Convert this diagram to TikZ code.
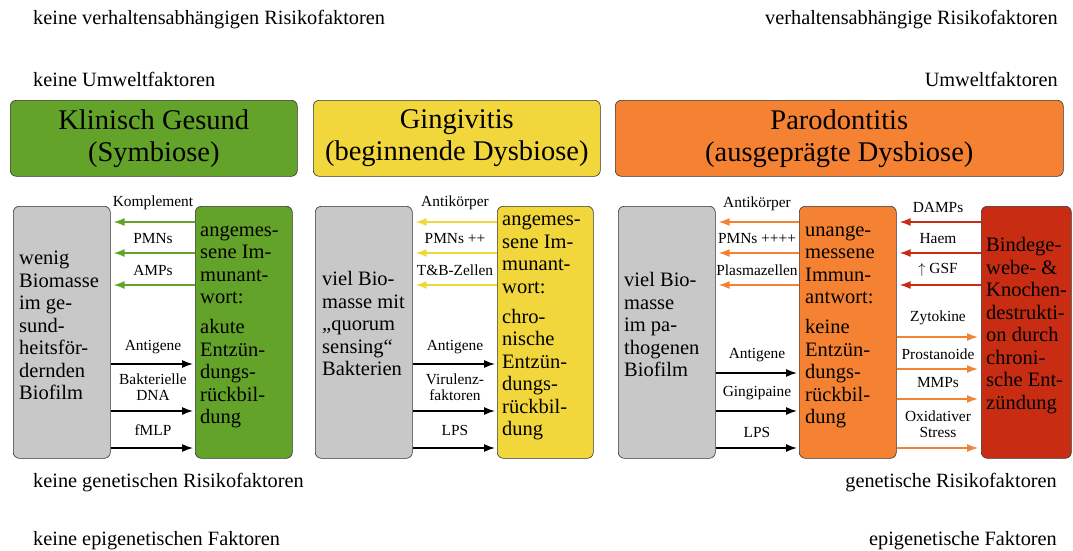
\documentclass[tikz,border=0pt]{standalone}
\usepackage{fontspec}
\setmainfont{Liberation Serif}
\usetikzlibrary{arrows.meta}
\definecolor{cgreen}{RGB}{99,163,41}
\definecolor{cyellow}{RGB}{242,215,60}
\definecolor{corange}{RGB}{245,130,50}
\definecolor{cred}{RGB}{200,45,20}
\definecolor{cgray}{RGB}{200,200,200}
\newcommand{\bodyfs}{\fontsize{20.5}{22.5}\selectfont}
\newcommand{\titlefs}{\fontsize{28.5}{32}\selectfont}
\newcommand{\labfs}{\fontsize{15.4}{16.5}\selectfont}
\newcommand{\cornfs}{\fontsize{20.3}{22}\selectfont}
\tikzset{
  panel/.style={draw=black!80, line width=0.6pt, rounded corners=6pt, anchor=north west, inner sep=0pt},
  titlebox/.style={panel, minimum height=76pt, font=\titlefs, align=center},
  colbox/.style={panel, minimum width=97pt, minimum height=252pt},
  boxtext/.style={anchor=west, align=left, font=\bodyfs, inner sep=0pt},
  lab/.style={font=\labfs, align=center, inner sep=0pt},
  corner/.style={font=\cornfs, inner sep=0pt},
  arr/.style={line width=1.4pt, -{Latex[length=11pt,width=8pt]}},
}
\begin{document}
\begin{tikzpicture}[x=1pt,y=-1pt]
\useasboundingbox (0,0) rectangle (1073,551);
% corner texts
\node[corner, anchor=west] (tl1) at (33,20) {keine verhaltensabhängigen Risikofaktoren};
\node[corner, anchor=west] (tl2) at (33,79) {keine Umweltfaktoren};
\node[corner, anchor=east] (tr1) at (1058,20) {verhaltensabhängige Risikofaktoren};
\node[corner, anchor=east] (tr2) at (1058,79) {Umweltfaktoren};
\node[corner, anchor=west] (bl1) at (33,483) {keine genetischen Risikofaktoren};
\node[corner, anchor=west] (bl2) at (33,541) {keine epigenetischen Faktoren};
\node[corner, anchor=east] (br1) at (1057,483) {genetische Risikofaktoren};
\node[corner, anchor=east] (br2) at (1057,541) {epigenetische Faktoren};
% titles
\node[titlebox, fill=cgreen, minimum width=287pt] (t1) at (10,100) {Klinisch Gesund\\(Symbiose)};
\node[titlebox, fill=cyellow, minimum width=287pt] (t2) at (313,100) {Gingivitis\\(beginnende Dysbiose)};
\node[titlebox, fill=corange, minimum width=448pt] (t3) at (615,100) {Parodontitis\\(ausgeprägte Dysbiose)};
% boxes
\node[colbox, fill=cgray] (g1) at (13,206) {};
\node[colbox, fill=cgreen] (c1) at (195,206) {};
\node[colbox, fill=cgray] (g2) at (315,206) {};
\node[colbox, fill=cyellow, minimum width=96pt] (c2) at (497,206) {};
\node[colbox, fill=cgray] (g3) at (618,206) {};
\node[colbox, fill=corange] (c3) at (799,206) {};
\node[colbox, fill=cred, minimum width=90pt] (r3) at (981,206) {};
% box texts
\node[boxtext] (g1t) at (19,327.5) {\strut wenig\\Biomasse\\im ge-\\sund-\\heitsför-\\dernden\\Biofilm\strut};
\node[boxtext] (c1t) at (200,325.5) {\strut angemes-\\sene Im-\\munant-\\wort:\\[7.5pt]akute\\Entzün-\\dungs-\\rückbil-\\dung\strut};
\node[boxtext] (g2t) at (322,326) {\strut viel Bio-\\masse mit\\„quorum\\sensing“\\Bakterien\strut};
\node[boxtext] (c2t) at (502,326) {\strut angemes-\\sene Im-\\munant-\\wort:\\[7.5pt]chro-\\nische\\Entzün-\\dungs-\\rückbil-\\dung\strut};
\node[boxtext] (g3t) at (624,327) {\strut viel Bio-\\masse\\im pa-\\thogenen\\Biofilm\strut};
\node[boxtext] (c3t) at (805,325.5) {\strut unange-\\messene\\Immun-\\antwort:\\[7.5pt]keine\\Entzün-\\dungs-\\rückbil-\\dung\strut};
\node[boxtext] (r3t) at (986,326) {\strut Bindege-\\webe- \&\\Knochen-\\destrukti-\\on durch\\chroni-\\sche Ent-\\zündung\strut};
% panel 1 arrows
\foreach \y in {222,253,285} \draw[arr, cgreen, shorten >=3pt] (c1.west |- 0,\y) -- (g1.east |- 0,\y);
\foreach \y in {364,411,448} \draw[arr, black, shorten >=2pt] (g1.east |- 0,\y) -- (c1.west |- 0,\y);
\node[lab] (l11) at (153,203) {Komplement};
\node[lab] (l12) at (153,239) {PMNs};
\node[lab] (l13) at (153,270) {AMPs};
\node[lab] (l14) at (153,347) {Antigene};
\node[lab] (l15) at (153,387) {Bakterielle\\DNA};
\node[lab] (l16) at (153,430) {fMLP};
% panel 2 arrows
\foreach \y in {222,253,285} \draw[arr, cyellow, shorten >=3pt] (c2.west |- 0,\y) -- (g2.east |- 0,\y);
\foreach \y in {364,411,448} \draw[arr, black, shorten >=2pt] (g2.east |- 0,\y) -- (c2.west |- 0,\y);
\node[lab] (l21) at (455,203) {Antikörper};
\node[lab] (l22) at (455,239) {PMNs ++};
\node[lab] (l23) at (455,270) {T\&B-Zellen};
\node[lab] (l24) at (455,347) {Antigene};
\node[lab] (l25) at (455,387) {Virulenz-\\faktoren};
\node[lab] (l26) at (455,430) {LPS};
% panel 3 arrows
\foreach \y in {222,253,285} \draw[arr, corange, shorten >=3pt] (c3.west |- 0,\y) -- (g3.east |- 0,\y);
\foreach \y in {373,411,448} \draw[arr, black, shorten >=2pt] (g3.east |- 0,\y) -- (c3.west |- 0,\y);
\node[lab] (l31) at (757,204) {Antikörper};
\node[lab] (l32) at (757,239) {PMNs ++++};
\node[lab] (l33) at (757,270) {Plasmazellen};
\node[lab] (l34) at (757,355) {Antigene};
\node[lab] (l35) at (757,393) {Gingipaine};
\node[lab] (l36) at (757,432) {LPS};
\foreach \y in {222,253,285} \draw[arr, cred, shorten >=3pt] (r3.west |- 0,\y) -- (c3.east |- 0,\y);
\foreach \y in {337,369,399,448} \draw[arr, corange, shorten >=3pt] (c3.east |- 0,\y) -- (r3.west |- 0,\y);
\node[lab] (l41) at (938,207) {DAMPs};
\node[lab] (l42) at (938,239) {Haem};
\node[lab] (l43) at (938,270) {$\uparrow$ GSF};
\node[lab] (l44) at (938,318) {Zytokine};
\node[lab] (l45) at (938,354) {Prostanoide};
\node[lab] (l46) at (938,383) {MMPs};
\node[lab] (l47) at (938,424) {Oxidativer\\Stress};
\end{tikzpicture}
\end{document}
